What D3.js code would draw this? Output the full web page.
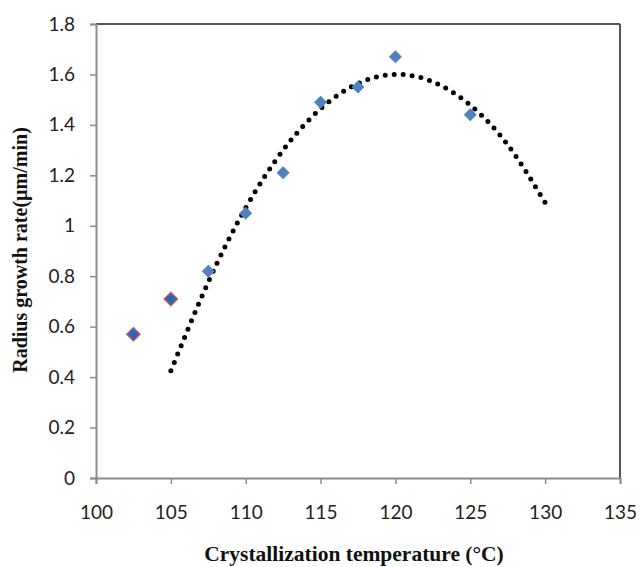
<!DOCTYPE html>
<html><head><meta charset="utf-8">
<script src="https://cdn.jsdelivr.net/npm/d3@7"></script>
<style>body{margin:0;background:#fff}</style>
</head><body>
<svg id="c" width="640" height="567"></svg>
<script>
const temps = [102.5, 105, 107.5, 110, 112.5, 115, 117.5, 120, 125];
const rates = [0.57, 0.71, 0.82, 1.05, 1.21, 1.49, 1.55, 1.67, 1.44];
const outlined = [true, true, false, false, false, false, false, false, false];
const trendT = [105, 107.5, 110, 112.5, 115, 117.5, 120, 122.5, 125, 127.5, 130];
const trendV = [0.425, 0.777, 1.071, 1.30, 1.464, 1.564, 1.60, 1.571, 1.478, 1.321, 1.092];
const xTicks = [100, 105, 110, 115, 120, 125, 130, 135];
const yTicks = [0, 0.2, 0.4, 0.6, 0.8, 1, 1.2, 1.4, 1.6, 1.8];

const svg = d3.select("#c");
const L = 96, R = 620, T = 24, B = 478;
const x = d3.scaleLinear().domain([100, 135]).range([L, R]);
const y = d3.scaleLinear().domain([0, 1.8]).range([B, T]);

// frame top & right
svg.append("line").attr("x1", L).attr("x2", R).attr("y1", T).attr("y2", T)
  .attr("stroke", "#555").attr("stroke-width", 2);
svg.append("line").attr("x1", R).attr("x2", R).attr("y1", T).attr("y2", B)
  .attr("stroke", "#555").attr("stroke-width", 2);

const gx = svg.append("g").attr("transform", `translate(0,${B})`)
  .call(d3.axisBottom(x).tickValues(xTicks).tickSize(6).tickPadding(22).tickFormat(d3.format("d")));
const gy = svg.append("g").attr("transform", `translate(${L},0)`)
  .call(d3.axisLeft(y).tickValues(yTicks).tickSize(6).tickPadding(15).tickFormat(d => d === 0 ? "0" : d3.format("")(+d.toFixed(1))));
[gx, gy].forEach(g => {
  g.select(".domain").attr("stroke", "#8c8c8c").attr("stroke-width", 2);
  g.selectAll(".tick line").attr("stroke", "#8c8c8c").attr("stroke-width", 1.5);
  g.selectAll(".tick text").attr("font-family", "Lato, 'Open Sans', sans-serif")
    .attr("font-size", 19).attr("fill", "#222");
});

// trendline
const line = d3.line().x((d, i) => x(trendT[i])).y(d => y(d)).curve(d3.curveNatural);
svg.append("path").attr("d", line(trendV)).attr("fill", "none")
  .attr("stroke", "#000").attr("stroke-width", 5).attr("stroke-linecap", "round")
  .attr("stroke-dasharray", "0,9");

// points
const sym = d3.symbol().type(d3.symbolSquare).size(84);
svg.selectAll(".pt").data(rates).join("path")
  .attr("d", sym)
  .attr("transform", (d, i) => `translate(${x(temps[i])},${y(d)}) rotate(45)`)
  .attr("fill", (d, i) => outlined[i] ? "#1f6bbf" : "#4f81bd")
  .attr("stroke", (d, i) => outlined[i] ? "#c0504d" : "none")
  .attr("stroke-width", 1.5);

// titles
svg.append("text").attr("x", 354).attr("y", 561).attr("text-anchor", "middle")
  .attr("font-family", "'Liberation Serif', 'Times New Roman', serif").attr("font-weight", "bold")
  .attr("font-size", 21.5).attr("fill", "#111").text("Crystallization temperature (°C)");
svg.append("text").attr("transform", "translate(27,250) rotate(-90)").attr("text-anchor", "middle")
  .attr("font-family", "'Liberation Serif', 'Times New Roman', serif").attr("font-weight", "bold")
  .attr("font-size", 20).attr("fill", "#111").text("Radius growth rate(µm/min)");
</script>
</body></html>
